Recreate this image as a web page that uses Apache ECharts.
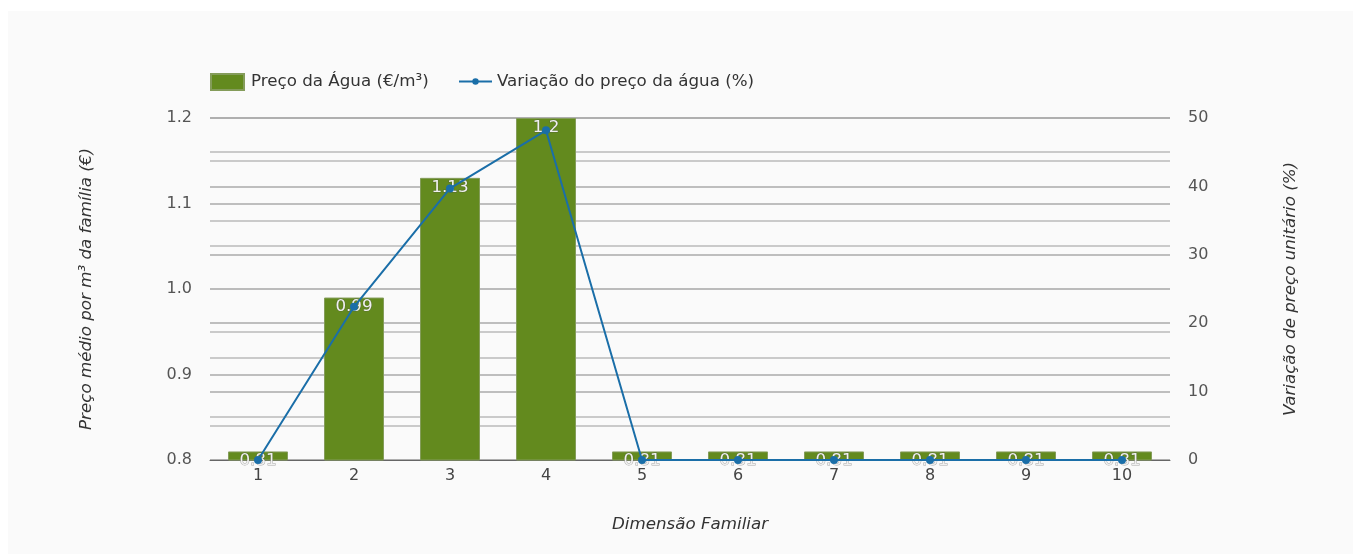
<!DOCTYPE html>
<html>
<head>
<meta charset="utf-8">
<script src="https://cdn.jsdelivr.net/npm/echarts@6/dist/echarts.min.js"></script>
<style>
html,body{margin:0;padding:0;background:#ffffff;}
#c{width:1361px;height:554px;}
</style>
</head>
<body>
<div id="c"></div>
<script>
var categories = ['1','2','3','4','5','6','7','8','9','10'];
var precoAgua = [0.81, 0.99, 1.13, 1.2, 0.81, 0.81, 0.81, 0.81, 0.81, 0.81];
var variacao = [0, 22.4, 39.7, 48.2, 0, 0, 0, 0, 0, 0];
var seriesNames = ['Preço da Água (€/m³)', 'Variação do preço da água (%)'];
var axisNames = ['Dimensão Familiar', 'Preço médio por m³ da família (€)', 'Variação de preço unitário (%)'];

var font = 'DejaVu Sans';
var fsBig = 16.7;
var chart = echarts.init(document.getElementById('c'));
chart.setOption({
  backgroundColor: 'transparent',
  textStyle: {fontFamily: font},
  graphic: [{
    type: 'rect', z: -100, silent: true,
    shape: {x: 8, y: 11, width: 1345, height: 543},
    style: {fill: '#fafafa'}
  }],
  legend: [{
    left: 210, top: 73, padding: 0,
    itemWidth: 33, itemHeight: 16,
    textStyle: {fontFamily: font, fontSize: fsBig, color: '#333', padding: [0, 0, 0, 2]},
    data: [{name: seriesNames[0], icon: 'rect'}]
  }, {
    left: 458, top: 73, padding: 0,
    itemWidth: 33, itemHeight: 8,
    textStyle: {fontFamily: font, fontSize: fsBig, color: '#333', padding: [0, 0, 0, 0]},
    data: [{name: seriesNames[1]}]
  }],
  grid: {left: 210, right: 191, top: 118, bottom: 94, containLabel: false},
  xAxis: {
    type: 'category',
    data: categories,
    name: axisNames[0],
    nameLocation: 'middle',
    nameGap: 56,
    nameTextStyle: {fontFamily: font, fontSize: fsBig, fontStyle: 'italic', color: '#333'},
    axisLine: {lineStyle: {color: '#666', width: 1}},
    axisTick: {show: false},
    axisLabel: {fontFamily: font, fontSize: 16, color: '#444', margin: 8}
  },
  yAxis: [{
    type: 'value',
    min: 0.8, max: 1.2, interval: 0.1,
    name: axisNames[1],
    nameLocation: 'middle',
    nameGap: 115,
    nameRotate: 90,
    nameTextStyle: {fontFamily: font, fontSize: fsBig, fontStyle: 'italic', color: '#333'},
    axisLine: {show: false},
    axisTick: {show: false},
    axisLabel: {fontFamily: font, fontSize: 16, color: '#555', margin: 18,
      formatter: function (v) { return v.toFixed(1); }},
    splitLine: {show: true, lineStyle: {color: '#aaaaaa', width: 1.5}},
    minorTick: {show: false, splitNumber: 2},
    minorSplitLine: {show: true, lineStyle: {color: '#bbbbbb', width: 1.5}}
  }, {
    type: 'value',
    min: 0, max: 50, interval: 10,
    name: axisNames[2],
    nameLocation: 'middle',
    nameGap: 112,
    nameRotate: 90,
    nameTextStyle: {fontFamily: font, fontSize: fsBig, fontStyle: 'italic', color: '#333'},
    axisLine: {show: false},
    axisTick: {show: false},
    axisLabel: {fontFamily: font, fontSize: 16, color: '#555', margin: 18},
    splitLine: {show: true, lineStyle: {color: '#aaaaaa', width: 1.5}},
    minorTick: {show: false, splitNumber: 2},
    minorSplitLine: {show: true, lineStyle: {color: '#bbbbbb', width: 1.5}}
  }],
  series: [{
    name: seriesNames[0],
    type: 'bar',
    yAxisIndex: 0,
    data: precoAgua,
    barWidth: 60,
    itemStyle: {color: '#638a1e', borderColor: '#849c5a', borderWidth: 1},
    label: {
      show: true, position: 'insideTop', distance: 1,
      fontFamily: font, fontSize: fsBig, color: '#f0f0f0',
      textBorderColor: 'rgba(70,70,70,0.45)', textBorderWidth: 1
    },
    z: 2
  }, {
    name: seriesNames[1],
    type: 'line',
    yAxisIndex: 1,
    data: variacao,
    symbol: 'circle',
    symbolSize: 8,
    lineStyle: {color: '#1a6ea8', width: 2},
    itemStyle: {color: '#1a6ea8'},
    z: 5
  }]
});
</script>
</body>
</html>
